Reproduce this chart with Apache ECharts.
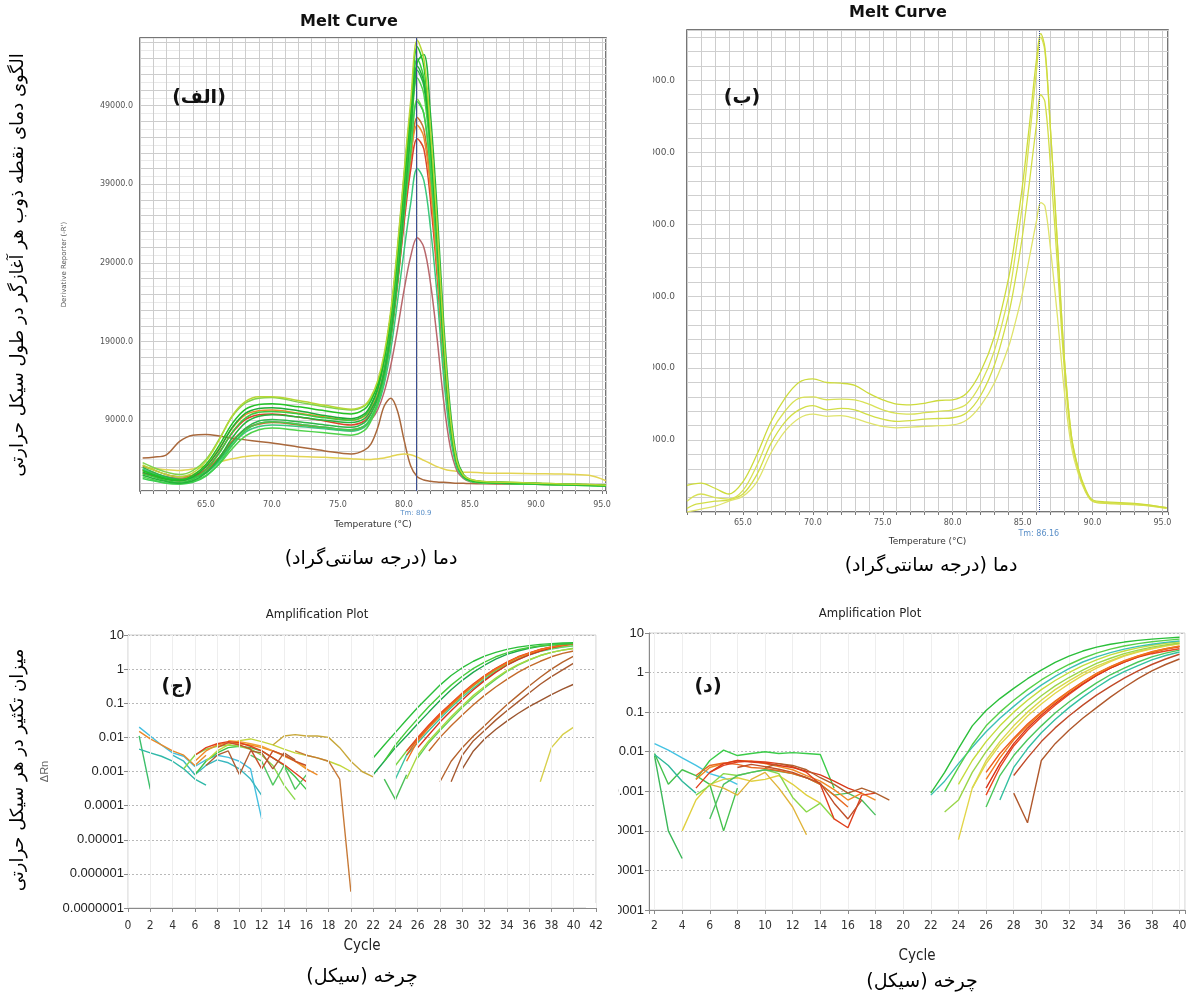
<!DOCTYPE html>
<html lang="fa">
<head>
<meta charset="utf-8">
<title>Melt Curve / Amplification Plot</title>
<script src="https://cdn.jsdelivr.net/npm/echarts@6/dist/echarts.min.js"></script>
<style>
  html, body { margin: 0; padding: 0; background: #ffffff; }
  #chart { width: 1188px; height: 999px; }
</style>
</head>
<body>
<div id="chart"></div>
<script>
// ===================== Panel (الف): melt curves of all primers =====================
const meltTempA = [60.2, 61, 62, 63, 64, 65, 66, 67, 68, 69, 70, 72, 74, 76, 77, 77.5, 78, 78.5, 79, 79.5,
  80, 80.5, 81, 81.5, 82, 82.5, 83, 83.5, 84, 84.5, 85, 86, 88, 90, 92, 94, 95.3];

const meltA01 = [2600, 2100, 1600, 1400, 2000, 3400, 5800, 8600, 10400, 11000, 11100, 10700, 10200, 9800, 10400, 11500, 13500, 17000, 22500, 30000, 39000, 48000, 56500, 54000, 45000, 33000, 19000, 9000, 3600, 1900, 1400, 1150, 1050, 950, 850, 780, 700];
const meltA02 = [2200, 1800, 1300, 1100, 1500, 2700, 4800, 7500, 9300, 10000, 10100, 9800, 9300, 9000, 9600, 10800, 12800, 16500, 22000, 29500, 38500, 47000, 55000, 52500, 44000, 32500, 19000, 9200, 3800, 2000, 1400, 1100, 1000, 900, 820, 750, 680];
const meltA03 = [3000, 2400, 1800, 1500, 1700, 2400, 4000, 6200, 8000, 8900, 9100, 8800, 8400, 8100, 8700, 9800, 11800, 15500, 21000, 28500, 37500, 46000, 53500, 51500, 43500, 32000, 18500, 8800, 3500, 1900, 1350, 1100, 1000, 900, 800, 720, 650];
const meltA04 = [1800, 1400, 1000, 900, 1200, 2000, 3400, 5400, 7000, 7800, 8000, 7700, 7400, 7100, 7700, 8900, 11000, 14500, 20000, 27500, 36500, 45000, 52500, 50500, 42500, 31500, 18000, 8500, 3400, 1800, 1300, 1050, 950, 850, 780, 700, 620];
const meltA05 = [3600, 3000, 2400, 2100, 2600, 4000, 6600, 9500, 11200, 11800, 11900, 11300, 10700, 10300, 10800, 11800, 13600, 16800, 21500, 28000, 35500, 43000, 49800, 48000, 40500, 30000, 17500, 8600, 3600, 2000, 1500, 1200, 1100, 1000, 900, 820, 740];
const meltA06 = [2000, 1600, 1200, 1000, 1300, 2300, 4200, 6800, 8700, 9500, 9700, 9400, 9000, 8700, 9200, 10300, 12000, 15000, 20000, 27000, 36000, 45500, 54500, 55500, 48000, 36000, 21500, 10500, 4200, 2100, 1450, 1150, 1050, 950, 850, 770, 690];
const meltA07 = [2800, 2200, 1700, 1400, 1600, 2300, 3800, 5900, 7500, 8200, 8400, 8200, 7900, 7600, 8100, 9100, 10800, 13600, 18000, 24000, 30500, 36500, 41000, 39500, 33500, 25000, 14500, 7000, 3000, 1700, 1250, 1050, 950, 850, 770, 700, 620];
const meltA08 = [2400, 2000, 1500, 1300, 1800, 3100, 5300, 8100, 9900, 10500, 10600, 10200, 9600, 9200, 9800, 11000, 13000, 16800, 22500, 30500, 40000, 48500, 54000, 52000, 44000, 32500, 19000, 9000, 3600, 1900, 1400, 1150, 1050, 950, 850, 770, 690];
const meltA09 = [2600, 2200, 1700, 1500, 2000, 3200, 5400, 8000, 9700, 10200, 10300, 9900, 9400, 9000, 9500, 10500, 12300, 15500, 20500, 27500, 35500, 42500, 46500, 45000, 38500, 28500, 16500, 8000, 3300, 1800, 1350, 1100, 1000, 900, 820, 750, 680];
const meltA10 = [2300, 1900, 1500, 1300, 1700, 2800, 4900, 7400, 9100, 9700, 9800, 9400, 8900, 8400, 8900, 9900, 11700, 14800, 19800, 26500, 34000, 40800, 44800, 43500, 37000, 27500, 16000, 7800, 3200, 1800, 1300, 1100, 1000, 900, 820, 750, 680];
const meltA11 = [3200, 2700, 2100, 1800, 2000, 2700, 4300, 6400, 7900, 8500, 8700, 8400, 8000, 7700, 8200, 9200, 11000, 14200, 19200, 26000, 34500, 42000, 47500, 46000, 39500, 29500, 17000, 8200, 3400, 1900, 1400, 1150, 1050, 950, 850, 780, 700];
const meltA12 = [2700, 2300, 1800, 1600, 1900, 2600, 4200, 6300, 7900, 8600, 8800, 8500, 8100, 7800, 8200, 9000, 10300, 12600, 16000, 20500, 25500, 29800, 32200, 31000, 26500, 19500, 11500, 5600, 2600, 1600, 1200, 1050, 950, 870, 800, 730, 660];
const meltA13 = [4200, 4300, 4600, 6300, 7100, 7200, 7000, 6700, 6500, 6300, 6100, 5600, 5100, 4700, 5200, 6000, 8000, 10800, 11800, 10200, 6500, 3200, 1800, 1400, 1250, 1150, 1100, 1050, 1000, 980, 950, 920, 880, 850, 800, 760, 700];
const meltA14 = [3000, 2900, 2700, 2600, 2800, 3200, 3700, 4100, 4400, 4500, 4500, 4400, 4300, 4100, 4000, 4000, 4100, 4200, 4400, 4600, 4700, 4600, 4300, 3900, 3500, 3100, 2800, 2600, 2500, 2400, 2400, 2300, 2250, 2200, 2150, 2000, 1300];
const meltA15 = [3300, 2700, 2100, 1800, 2300, 3800, 6500, 9600, 11400, 12000, 12000, 11500, 10900, 10400, 10900, 12000, 14000, 17500, 23000, 31000, 40500, 49500, 57300, 55000, 46000, 34000, 20000, 9500, 3800, 2000, 1500, 1200, 1100, 1000, 900, 820, 740];
const meltA16 = [1600, 1300, 1000, 900, 1100, 1900, 3500, 5800, 7700, 8600, 8800, 8500, 8100, 7800, 8300, 9400, 11200, 14500, 19500, 26500, 35000, 43000, 49500, 48000, 41000, 30500, 17800, 8500, 3400, 1800, 1300, 1050, 950, 860, 780, 700, 630];

// drawing order: brown / red / orange traces first, green bundle on top
const meltCurvesA = [meltA13, meltA14, meltA12, meltA11, meltA10, meltA09,
  meltA05, meltA07, meltA03, meltA04, meltA16, meltA02, meltA08, meltA06, meltA01, meltA15];
const meltColorsA = ['#a9683c', '#e3d452', '#b8686c', '#c27232', '#da452b', '#eb8b2f',
  '#7fd44c', '#3cc87c', '#2cb84a', '#4fd24a', '#3ccf50', '#39cc3e', '#1fae35', '#25b33a', '#22c224', '#b7d636'];
const meltTicksA = [9000, 19000, 29000, 39000, 49000];
const tmA = 80.9;

// ===================== Panel (ب): melt curves of one primer =====================
const meltTempB = [61, 61.5, 62, 63, 64, 65, 66, 67, 68, 69, 70, 71, 72, 73, 74, 75, 76, 77, 78, 79, 80, 81, 82, 83, 84,
  84.5, 85, 85.5, 86, 86.3, 86.6, 87, 87.5, 88, 88.5, 89, 89.5, 90, 91, 92, 93, 94, 95.3];
const meltB1 = [370, 390, 400, 330, 250, 420, 800, 1250, 1580, 1800, 1850, 1800, 1790, 1760, 1650, 1560, 1500, 1490, 1510, 1550, 1560, 1650, 1950, 2450, 3250, 3850, 4550, 5400, 6300, 6650, 6450, 5300, 3700, 2100, 1050, 600, 320, 170, 140, 130, 120, 100, 60];
const meltB2 = [150, 220, 250, 200, 180, 300, 650, 1100, 1400, 1580, 1600, 1560, 1570, 1560, 1500, 1420, 1370, 1360, 1380, 1400, 1420, 1500, 1780, 2250, 3000, 3600, 4300, 5200, 6150, 6600, 6400, 5300, 3700, 2100, 1050, 580, 300, 160, 130, 120, 110, 95, 60];
const meltB3 = [50, 100, 120, 150, 170, 250, 520, 950, 1250, 1420, 1480, 1420, 1440, 1420, 1350, 1290, 1260, 1270, 1290, 1300, 1310, 1380, 1620, 2050, 2750, 3250, 3850, 4600, 5400, 5800, 5700, 4800, 3400, 1950, 1000, 560, 290, 150, 120, 115, 105, 90, 55];
const meltB4 = [0, 20, 40, 80, 150, 220, 420, 820, 1120, 1300, 1360, 1330, 1340, 1300, 1240, 1190, 1170, 1180, 1190, 1200, 1210, 1280, 1480, 1800, 2300, 2650, 3050, 3550, 4050, 4300, 4250, 3650, 2700, 1650, 900, 520, 280, 150, 120, 110, 100, 85, 50];
const meltCurvesB = [meltB4, meltB3, meltB2, meltB1];
const meltColorsB = ['#dfe36a', '#d2de46', '#d8e155', '#cddb3c'];
const meltTicksB = [1000, 2000, 3000, 4000, 5000, 6000];
const tmB = 86.16;

// ===================== Panel (ج): amplification plot, ΔRn per cycle =====================
const ampTickLabels = ['10', '1', '0.1', '0.01', '0.001', '0.0001', '0.00001', '0.000001', '0.0000001'];

const ampC_G1 = { from: 22, v: [0.0025, 0.006, 0.014, 0.033, 0.075, 0.16, 0.34, 0.65, 1.1, 1.7, 2.4, 3.1, 3.8, 4.4, 4.9, 5.3, 5.6, 5.8, 5.9] };
const ampC_G2 = { from: 23, v: [0.002, 0.006, 0.015, 0.035, 0.08, 0.17, 0.34, 0.62, 1.05, 1.6, 2.3, 3.0, 3.7, 4.3, 4.8, 5.2, 5.5, 5.7] };
const ampC_G3 = { from: 22, v: [0.0008, 0.002, 0.005, 0.011, 0.025, 0.055, 0.12, 0.25, 0.47, 0.82, 1.3, 1.95, 2.7, 3.4, 4.1, 4.7, 5.1, 5.4, 5.6] };
const ampC_G4 = { from: 24, v: [0.0015, 0.004, 0.009, 0.02, 0.042, 0.085, 0.17, 0.32, 0.56, 0.92, 1.4, 2.0, 2.7, 3.4, 4.0, 4.5, 4.9] };
const ampC_G5 = { from: 25, v: [0.0006, 0.003, 0.008, 0.018, 0.04, 0.085, 0.17, 0.31, 0.55, 0.9, 1.35, 1.9, 2.5, 3.1, 3.6, 4.0] };
const ampC_G6 = { from: 24, v: [0.0006, 0.003, 0.007, 0.016, 0.035, 0.075, 0.15, 0.28, 0.5, 0.85, 1.3, 1.9, 2.6, 3.3, 3.9, 4.4, 4.8] };
const ampC_G7 = { from: 26, v: [0.0025, 0.007, 0.016, 0.035, 0.075, 0.15, 0.28, 0.5, 0.85, 1.3, 1.85, 2.5, 3.1, 3.6, 4.1] };
const ampC_R1 = { from: 25, v: [0.004, 0.01, 0.023, 0.05, 0.1, 0.2, 0.37, 0.65, 1.05, 1.6, 2.3, 3.0, 3.8, 4.5, 5.1, 5.6] };
const ampC_R2 = { from: 25, v: [0.002, 0.008, 0.019, 0.042, 0.088, 0.18, 0.34, 0.6, 1.0, 1.5, 2.2, 2.9, 3.7, 4.4, 5.0, 5.5] };
const ampC_R3 = { from: 26, v: [0.005, 0.012, 0.028, 0.06, 0.125, 0.25, 0.46, 0.8, 1.3, 1.9, 2.6, 3.4, 4.2, 4.9, 5.5] };
const ampC_R4 = { from: 25, v: [0.003, 0.009, 0.021, 0.046, 0.095, 0.19, 0.35, 0.62, 1.02, 1.55, 2.25, 2.95, 3.75, 4.45, 5.05, 5.55] };
const ampC_B1 = { from: 28, v: [0.0005, 0.002, 0.005, 0.011, 0.022, 0.045, 0.09, 0.17, 0.32, 0.58, 1.0, 1.6, 2.4] };
const ampC_B2 = { from: 29, v: [0.0005, 0.003, 0.008, 0.016, 0.032, 0.06, 0.11, 0.2, 0.36, 0.6, 0.95, 1.5] };
const ampC_B3 = { from: 30, v: [0.0012, 0.004, 0.009, 0.017, 0.03, 0.05, 0.08, 0.12, 0.18, 0.26, 0.36] };
const ampC_B4 = { from: 27, v: [0.004, 0.01, 0.022, 0.045, 0.09, 0.17, 0.3, 0.5, 0.8, 1.2, 1.7, 2.3, 2.9, 3.4] };
const ampC_Y1 = { from: 37, v: [0.0005, 0.005, 0.012, 0.02] };

const noiseC01 = { from: 1, v: [0.02, 0.011, 0.006, 0.0035, 0.0028, 0.0014, 0.0022, 0.003, 0.0026, 0.002, 0.0012, 0.00004] };
const noiseC02 = { from: 1, v: [0.011, 0.0003] };
const noiseC03 = { from: 1, v: [0.0045, 0.0035, 0.0028, 0.002, 0.0012, 0.0006, 0.0004] };
const noiseC04 = { from: 1, v: [0.015, 0.009, 0.006, 0.004, 0.003, 0.0015, 0.003] };
const noiseC05 = { from: 6, v: [0.002, 0.004, 0.006, 0.007, 0.0065, 0.006, 0.005, 0.004, 0.003, 0.002, 0.0012, 0.0008] };
const noiseC06 = { from: 6, v: [0.003, 0.005, 0.0065, 0.0075, 0.007, 0.0055, 0.004, 0.0025, 0.0016, 0.0009, 0.0005] };
const noiseC07 = { from: 7, v: [0.0015, 0.003, 0.004, 0.0008, 0.004, 0.0035, 0.0012, 0.0035, 0.0022] };
const noiseC08 = { from: 6, v: [0.0008, 0.002, 0.0035, 0.005, 0.0055, 0.005, 0.004, 0.0025, 0.0015, 0.0007, 0.0003] };
const noiseC09 = { from: 5, v: [0.0012, 0.003, 0.0045, 0.0055, 0.006, 0.0055, 0.0045, 0.003, 0.0015, 0.0004, 0.00015] };
const noiseC10 = { from: 7, v: [0.002, 0.004, 0.006, 0.008, 0.009, 0.0075, 0.006, 0.0045, 0.0035, 0.003, 0.0025, 0.002, 0.0015, 0.001] };
const noiseC11 = { from: 13, v: [0.006, 0.011, 0.012, 0.011, 0.011, 0.01, 0.005, 0.002, 0.001, 0.0007] };
const noiseC12 = { from: 15, v: [0.004, 0.003, 0.0025, 0.002, 0.0006, 0.0000003] };
const noiseC13 = { from: 4, v: [0.003, 0.002, 0.0008, 0.0015, 0.0022, 0.0018, 0.0012, 0.0006, 0.0002] };
const noiseC14 = { from: 11, v: [0.003, 0.002, 0.0004, 0.0015, 0.0003, 0.0008] };
const noiseC15 = { from: 8, v: [0.005, 0.007, 0.006, 0.0045, 0.0012, 0.004, 0.003, 0.002, 0.0015] };
const noiseC16 = { from: 9, v: [0.008, 0.0075, 0.0065, 0.0055, 0.004, 0.0028, 0.002, 0.0013] };
const noiseC17 = { from: 23, v: [0.0006, 0.00015, 0.0008] };

const ampCurvesC = [noiseC01, noiseC02, noiseC03, noiseC04, noiseC13, noiseC08, noiseC09, noiseC14, noiseC10,
  noiseC05, noiseC16, noiseC06, noiseC15, noiseC07, noiseC11, noiseC12, noiseC17,
  ampC_B3, ampC_B2, ampC_B1, ampC_B4, ampC_Y1, ampC_G7, ampC_G5, ampC_G6, ampC_G4,
  ampC_R3, ampC_R1, ampC_R4, ampC_R2, ampC_G3, ampC_G2, ampC_G1];
const ampColorsC = ['#45bfe0', '#3cbf6a', '#2fb8a8', '#e88a2a', '#3ab8c0', '#3cc44a', '#8ad84a', '#52c862', '#c2d63a',
  '#ef8b26', '#f0a030', '#e0401e', '#c8502a', '#b05c32', '#c8a83a', '#c77a38', '#4cc05a',
  '#9c5630', '#a85a30', '#b4622c', '#c46a2a', '#d8d04c', '#62d25a', '#a8d840', '#3cc4a0', '#7bd64a',
  '#d8321a', '#e8431e', '#ea5a1c', '#f0701e', '#1ea84e', '#47cc3c', '#2bbf3a'];

// ===================== Panel (د): amplification plot, second run =====================
const ampD_G1 = { from: 22, v: [0.0009, 0.003, 0.012, 0.045, 0.11, 0.22, 0.4, 0.7, 1.15, 1.8, 2.6, 3.5, 4.4, 5.2, 5.9, 6.5, 7.0, 7.4, 7.8] };
const ampD_G2 = { from: 23, v: [0.001, 0.004, 0.015, 0.045, 0.1, 0.2, 0.37, 0.65, 1.05, 1.6, 2.3, 3.1, 3.9, 4.7, 5.4, 6.0, 6.5, 7.0] };
const ampD_G3 = { from: 22, v: [0.0008, 0.0018, 0.005, 0.013, 0.032, 0.07, 0.14, 0.27, 0.48, 0.8, 1.25, 1.85, 2.5, 3.2, 3.9, 4.6, 5.2, 5.8, 6.3] };
const ampD_G4 = { from: 24, v: [0.0015, 0.006, 0.018, 0.045, 0.1, 0.2, 0.37, 0.63, 1.0, 1.5, 2.1, 2.8, 3.5, 4.2, 4.9, 5.5, 6.0] };
const ampD_G5 = { from: 23, v: [0.0003, 0.0006, 0.003, 0.01, 0.028, 0.065, 0.135, 0.26, 0.46, 0.75, 1.15, 1.7, 2.3, 3.0, 3.7, 4.4, 5.0, 5.6] };
const ampD_G6 = { from: 25, v: [0.0012, 0.006, 0.018, 0.045, 0.1, 0.2, 0.37, 0.62, 0.98, 1.45, 2.0, 2.7, 3.4, 4.1, 4.8, 5.4] };
const ampD_G7 = { from: 26, v: [0.0004, 0.0025, 0.008, 0.02, 0.045, 0.095, 0.18, 0.32, 0.55, 0.88, 1.3, 1.85, 2.5, 3.1, 3.7] };
const ampD_G8 = { from: 27, v: [0.0006, 0.004, 0.012, 0.03, 0.065, 0.13, 0.24, 0.42, 0.7, 1.05, 1.5, 2.1, 2.7, 3.3] };
const ampD_R1 = { from: 26, v: [0.0008, 0.004, 0.014, 0.035, 0.075, 0.15, 0.28, 0.5, 0.85, 1.3, 1.85, 2.45, 3.0, 3.5, 4.0] };
const ampD_R2 = { from: 26, v: [0.002, 0.007, 0.02, 0.045, 0.095, 0.18, 0.33, 0.57, 0.93, 1.4, 1.95, 2.6, 3.3, 4.0, 4.7] };
const ampD_R3 = { from: 26, v: [0.0012, 0.005, 0.016, 0.04, 0.085, 0.165, 0.3, 0.52, 0.85, 1.3, 1.85, 2.5, 3.2, 3.9, 4.5] };
const ampD_R4 = { from: 26, v: [0.003, 0.009, 0.022, 0.05, 0.1, 0.19, 0.34, 0.58, 0.95, 1.42, 2.0, 2.65, 3.35, 4.0, 4.6] };
const ampD_B1 = { from: 28, v: [0.0009, 0.00016, 0.006, 0.016, 0.035, 0.07, 0.13, 0.24, 0.42, 0.7, 1.1, 1.6, 2.2] };
const ampD_B2 = { from: 28, v: [0.0025, 0.007, 0.018, 0.04, 0.08, 0.15, 0.27, 0.45, 0.72, 1.1, 1.6, 2.2, 2.9] };
const ampD_Y1 = { from: 24, v: [0.00006, 0.0012, 0.005, 0.015, 0.035, 0.08, 0.16, 0.3, 0.52, 0.85, 1.3, 1.9, 2.6, 3.3, 4.0, 4.7, 5.3] };

const noiseD01 = { from: 2, v: [0.016, 0.011, 0.007, 0.0045, 0.0028, 0.0022, 0.0015] };
const noiseD02 = { from: 2, v: [0.008, 0.0001, 0.00002] };
const noiseD03 = { from: 2, v: [0.009, 0.0015, 0.0035, 0.0025, 0.0015, 0.0001, 0.0012] };
const noiseD04 = { from: 2, v: [0.0085, 0.0045, 0.0018, 0.0009] };
const noiseD05 = { from: 5, v: [0.002, 0.006, 0.011, 0.008, 0.009, 0.01, 0.009, 0.0095, 0.009, 0.0085, 0.0012] };
const noiseD06 = { from: 5, v: [0.0012, 0.003, 0.0045, 0.0055, 0.0058, 0.0055, 0.005, 0.0042, 0.003, 0.0015, 0.0002, 0.00012, 0.0008, 0.0009] };
const noiseD07 = { from: 5, v: [0.002, 0.004, 0.005, 0.006, 0.0058, 0.005, 0.0042, 0.0035, 0.0025, 0.0018, 0.0011, 0.0006, 0.0009, 0.0006] };
const noiseD08 = { from: 5, v: [0.0025, 0.0045, 0.0052, 0.0048, 0.004, 0.0038, 0.0033, 0.0028, 0.0022, 0.0015, 0.0008, 0.0004] };
const noiseD09 = { from: 4, v: [0.0001, 0.0006, 0.0015, 0.002, 0.0022, 0.0018, 0.002, 0.0025, 0.0015, 0.0008, 0.0005] };
const noiseD10 = { from: 5, v: [0.0008, 0.0014, 0.0028, 0.0025, 0.003, 0.0035, 0.0028, 0.0007, 0.0003, 0.0005, 0.0002] };
const noiseD11 = { from: 6, v: [0.0002, 0.0015, 0.0025, 0.003, 0.0035, 0.0032, 0.0028, 0.0022, 0.0015, 0.0008, 0.0009, 0.0006, 0.00025] };
const noiseD12 = { from: 10, v: [0.004, 0.005, 0.0045, 0.0035, 0.0022, 0.0015, 0.0009, 0.0012, 0.0009, 0.0006] };
const noiseD13 = { from: 6, v: [0.0015, 0.0012, 0.0008, 0.002, 0.003, 0.0012, 0.0004, 0.00008] };
const noiseD14 = { from: 6, v: [0.003, 0.005, 0.006, 0.0055, 0.0052, 0.0045, 0.004, 0.0032, 0.0026, 0.0018, 0.0012, 0.0009] };
const noiseD15 = { from: 8, v: [0.004, 0.0048, 0.0042, 0.0036, 0.003, 0.0022, 0.0016, 0.0005, 0.0002, 0.0006] };

const ampCurvesD = [noiseD01, noiseD02, noiseD03, noiseD04, noiseD05, noiseD09, noiseD10, noiseD11, noiseD13,
  noiseD07, noiseD08, noiseD06, noiseD14, noiseD15, noiseD12,
  ampD_B1, ampD_B2, ampD_G8, ampD_G7, ampD_Y1, ampD_G6, ampD_G5, ampD_G4,
  ampD_R1, ampD_R3, ampD_R4, ampD_R2, ampD_G3, ampD_G2, ampD_G1];
const ampColorsD = ['#45c3e3', '#3cb85a', '#46c24e', '#2fb89a', '#3ccc4a', '#e0d040', '#8ad84a', '#4cc060', '#e0b43a',
  '#ef8b26', '#e86a22', '#e0401e', '#d83a1a', '#c0502a', '#b0602e',
  '#b0582c', '#c04a28', '#34c0a0', '#4cc85a', '#e2d64a', '#d8d84a', '#9ad64a', '#c4dc3c',
  '#e8461e', '#d8341a', '#ee5c1c', '#f0781e', '#3cc0b4', '#56d048', '#2bbf3a'];

// ===================== Texts =====================
const rtl = s => '\u202B' + s + '\u202C';
const txtMeltAxis = 'دما (درجه سانتی\u200Cگراد)';
const txtCycleAxis = 'چرخه (سیکل)';
const txtMeltSide = 'الگوی دمای نقطه ذوب هر آغازگر در طول سیکل حرارتی';
const txtAmpSide = 'میزان تکثیر در هر سیکل حرارتی';
const panelTags = ['(الف)', '(ب)', '(ج)', '(د)'];

const FONT_MELT = '"DejaVu Sans", sans-serif';
const FONT_AMP = '"Liberation Sans", Arial, sans-serif';
const FONT_NARROW = '"Liberation Sans Narrow", "DejaVu Sans Condensed", "Liberation Sans", sans-serif';
const FONT_FA = '"DejaVu Sans", sans-serif';

// ===================== Series =====================
const series = [];
meltCurvesA.forEach((vals, i) => {
  series.push({
    type: 'line', xAxisIndex: 0, yAxisIndex: 0, showSymbol: false, smooth: 0.35, silent: true,
    lineStyle: { color: meltColorsA[i], width: 1.5 },
    data: meltTempA.map((t, k) => [t, vals[k]])
  });
});
series.push({
  type: 'line', xAxisIndex: 0, yAxisIndex: 0, data: [], silent: true,
  markLine: {
    silent: true, symbol: 'none', animation: false,
    lineStyle: { color: '#3b4f93', width: 1, type: 'solid' },
    label: { show: true, position: 'start', distance: 19, formatter: 'Tm: ' + tmA, color: '#5a8fc8', fontSize: 7, fontFamily: FONT_MELT },
    data: [{ xAxis: tmA }]
  }
});
meltCurvesB.forEach((vals, i) => {
  series.push({
    type: 'line', xAxisIndex: 1, yAxisIndex: 1, showSymbol: false, smooth: 0.35, silent: true,
    lineStyle: { color: meltColorsB[i], width: 1.3 },
    data: meltTempB.map((t, k) => [t, vals[k]])
  });
});
series.push({
  type: 'line', xAxisIndex: 1, yAxisIndex: 1, data: [], silent: true,
  markLine: {
    silent: true, symbol: 'none', animation: false,
    lineStyle: { color: '#3b4f93', width: 1, type: 'dotted' },
    label: { show: true, position: 'start', distance: 18, formatter: 'Tm: ' + tmB, color: '#5a8fc8', fontSize: 8, fontFamily: FONT_MELT },
    data: [{ xAxis: tmB }]
  }
});
function ampSeries(curves, colors, axisIdx) {
  curves.forEach((c, i) => {
    series.push({
      type: 'line', xAxisIndex: axisIdx, yAxisIndex: axisIdx, showSymbol: false, smooth: false, silent: true,
      lineStyle: { color: colors[i], width: 1.4 },
      data: c.v.map((y, k) => [c.from + k, y])
    });
  });
}
ampSeries(ampCurvesC, ampColorsC, 2);
ampSeries(ampCurvesD, ampColorsD, 3);

// ===================== Axes =====================
const meltXLabel = (v) => (v % 5 === 0 && v > 60 ? v.toFixed(1) : '');
const logLabel = (v) => {
  const k = Math.round(-Math.log10(v)) + 1;
  return ampTickLabels[k] !== undefined ? ampTickLabels[k] : '';
};

const option = {
  animation: false,
  backgroundColor: '#ffffff',
  textStyle: { fontFamily: FONT_AMP },
  grid: [
    { left: 140, top: 38, width: 466, height: 453, show: true, borderColor: '#4a4a4a', borderWidth: 1.5, backgroundColor: '#ffffff', outerBoundsMode: 'none' },
    { left: 687, top: 30, width: 481, height: 482, show: true, borderColor: '#4a4a4a', borderWidth: 1.5, backgroundColor: '#ffffff', outerBoundsMode: 'none' },
    { left: 128, top: 635, width: 468, height: 273, show: true, borderColor: '#cfcfcf', borderWidth: 1, backgroundColor: '#ffffff', outerBoundsMode: 'none' },
    { left: 649, top: 633, width: 536, height: 277, show: true, borderColor: '#cfcfcf', borderWidth: 1, backgroundColor: '#ffffff', outerBoundsMode: 'none' }
  ],
  xAxis: [
    {
      gridIndex: 0, type: 'value', min: 60, max: 95.3, interval: 1,
      name: 'Temperature (°C)', nameLocation: 'middle', nameGap: 29,
      nameTextStyle: { fontSize: 9, color: '#333', fontFamily: FONT_MELT },
      axisLine: { show: false, onZero: false },
      axisTick: { show: true, length: 3, lineStyle: { color: '#777' } },
      axisLabel: { formatter: meltXLabel, fontSize: 8, color: '#555', margin: 10, fontFamily: FONT_MELT },
      splitLine: { show: true, lineStyle: { color: '#cdcdcd', width: 1 } }
    },
    {
      gridIndex: 1, type: 'value', min: 61, max: 95.4, interval: 1,
      name: 'Temperature (°C)', nameLocation: 'middle', nameGap: 25,
      nameTextStyle: { fontSize: 9, color: '#333', fontFamily: FONT_MELT },
      axisLine: { show: false, onZero: false },
      axisTick: { show: true, length: 3, lineStyle: { color: '#777' } },
      axisLabel: { formatter: meltXLabel, fontSize: 8, color: '#555', margin: 7, fontFamily: FONT_MELT },
      splitLine: { show: true, lineStyle: { color: '#cdcdcd', width: 1 } }
    },
    {
      gridIndex: 2, type: 'value', min: 0, max: 42, interval: 2, z: 60,
      name: 'Cycle', nameLocation: 'middle', nameGap: 31,
      nameTextStyle: { fontSize: 15, color: '#222', fontFamily: FONT_NARROW },
      axisLine: { show: true, onZero: false, lineStyle: { color: '#8a8a8a', width: 1 } },
      axisTick: { show: true, length: 4, lineStyle: { color: '#8a8a8a' } },
      axisLabel: { fontSize: 12, color: '#333', margin: 12, fontFamily: FONT_NARROW },
      splitLine: { show: true, lineStyle: { color: '#eeeeee', width: 1 } }
    },
    {
      gridIndex: 3, type: 'value', min: 1.6, max: 40.4, splitNumber: 19,
      name: 'Cycle', nameLocation: 'middle', nameGap: 39,
      nameTextStyle: { fontSize: 15, color: '#222', fontFamily: FONT_NARROW },
      axisLine: { show: true, onZero: false, lineStyle: { color: '#8a8a8a', width: 1 } },
      axisTick: { show: true, length: 4, lineStyle: { color: '#8a8a8a' } },
      axisLabel: { formatter: (v) => (Number.isInteger(v) ? String(v) : ''), fontSize: 12, color: '#333', margin: 10, fontFamily: FONT_NARROW },
      splitLine: { show: true, lineStyle: { color: '#eeeeee', width: 1 } }
    }
  ],
  yAxis: [
    {
      gridIndex: 0, type: 'value', min: 0, max: 57600, interval: 1000,
      name: "Derivative Reporter (-R')", nameLocation: 'middle', nameGap: 72,
      nameTextStyle: { fontSize: 7, color: '#555', fontFamily: FONT_MELT },
      axisLine: { show: false },
      axisTick: { show: false },
      axisLabel: { formatter: (v) => (meltTicksA.includes(v) ? v.toFixed(1) : ''), fontSize: 8, color: '#555', margin: 7, fontFamily: FONT_MELT },
      splitLine: { show: true, lineStyle: { color: ['#e9e9e9', '#cdcdcd'], width: 1 } }
    },
    {
      gridIndex: 1, type: 'value', min: 0, max: 6700, interval: 200,
      axisLine: { show: false },
      axisTick: { show: false },
      axisLabel: { formatter: (v) => (meltTicksB.includes(v) ? v.toFixed(1) : ''), fontSize: 9, color: '#555', margin: 12, fontFamily: FONT_MELT },
      splitLine: { show: true, lineStyle: { color: '#cfcfcf', width: 1 } }
    },
    {
      gridIndex: 2, type: 'log', logBase: 10, min: 1e-7, max: 10,
      name: 'ΔRn', nameLocation: 'middle', nameGap: 78,
      nameTextStyle: { fontSize: 11, color: '#666', fontFamily: FONT_AMP },
      axisLine: { show: true, lineStyle: { color: '#8a8a8a', width: 1 } },
      axisTick: { show: true, length: 4, lineStyle: { color: '#8a8a8a' } },
      axisLabel: { formatter: logLabel, fontSize: 13, color: '#222', margin: 4, fontFamily: FONT_AMP },
      splitLine: { show: true, lineStyle: { color: '#b9b9b9', width: 1, type: [2, 2] } }
    },
    {
      gridIndex: 3, type: 'log', logBase: 10, min: 1e-6, max: 10,
      axisLine: { show: true, lineStyle: { color: '#8a8a8a', width: 1 } },
      axisTick: { show: true, length: 4, lineStyle: { color: '#8a8a8a' } },
      axisLabel: { formatter: logLabel, fontSize: 13, color: '#222', margin: 5, fontFamily: FONT_AMP },
      splitLine: { show: true, lineStyle: { color: '#b9b9b9', width: 1, type: [2, 2] } }
    }
  ],
  series: series,
  graphic: [
    // edges of the neighbouring images cut the left part of some tick labels
    { type: 'rect', z: 50, silent: true, shape: { x: 612, y: 60, width: 41, height: 400 }, style: { fill: '#ffffff' } },
    { type: 'rect', z: 50, silent: true, shape: { x: 597, y: 624, width: 21, height: 295 }, style: { fill: '#ffffff' } },
    { type: 'rect', z: 50, silent: true, shape: { x: 586, y: 903, width: 12, height: 16 }, style: { fill: '#ffffff' } },

    { type: 'text', z: 55, x: 349, y: 22, style: { text: 'Melt Curve', font: 'bold 16px ' + FONT_MELT, fill: '#111', align: 'center', verticalAlign: 'middle' } },
    { type: 'text', z: 55, x: 898, y: 13, style: { text: 'Melt Curve', font: 'bold 16px ' + FONT_MELT, fill: '#111', align: 'center', verticalAlign: 'middle' } },
    { type: 'text', z: 55, x: 317, y: 615, style: { text: 'Amplification Plot', font: '13px ' + FONT_NARROW, fill: '#222', align: 'center', verticalAlign: 'middle' } },
    { type: 'text', z: 55, x: 870, y: 614, style: { text: 'Amplification Plot', font: '13px ' + FONT_NARROW, fill: '#222', align: 'center', verticalAlign: 'middle' } },

    { type: 'text', z: 55, x: 199, y: 98, style: { text: rtl(panelTags[0]), font: 'bold 19px ' + FONT_FA, fill: '#111', align: 'center', verticalAlign: 'middle' } },
    { type: 'text', z: 55, x: 742, y: 98, style: { text: rtl(panelTags[1]), font: 'bold 19px ' + FONT_FA, fill: '#111', align: 'center', verticalAlign: 'middle' } },
    { type: 'text', z: 55, x: 177, y: 687, style: { text: rtl(panelTags[2]), font: 'bold 19px ' + FONT_FA, fill: '#111', align: 'center', verticalAlign: 'middle' } },
    { type: 'text', z: 55, x: 708, y: 687, style: { text: rtl(panelTags[3]), font: 'bold 19px ' + FONT_FA, fill: '#111', align: 'center', verticalAlign: 'middle' } },

    { type: 'text', z: 55, x: 371, y: 559, style: { text: rtl(txtMeltAxis), font: '19px ' + FONT_FA, fill: '#000', align: 'center', verticalAlign: 'middle' } },
    { type: 'text', z: 55, x: 931, y: 566, style: { text: rtl(txtMeltAxis), font: '19px ' + FONT_FA, fill: '#000', align: 'center', verticalAlign: 'middle' } },
    { type: 'text', z: 55, x: 362, y: 977, style: { text: rtl(txtCycleAxis), font: '19px ' + FONT_FA, fill: '#000', align: 'center', verticalAlign: 'middle' } },
    { type: 'text', z: 55, x: 922, y: 982, style: { text: rtl(txtCycleAxis), font: '19px ' + FONT_FA, fill: '#000', align: 'center', verticalAlign: 'middle' } },

    { type: 'text', z: 55, x: 18, y: 265, rotation: Math.PI / 2, style: { text: rtl(txtMeltSide), font: '18px ' + FONT_FA, fill: '#000', align: 'center', verticalAlign: 'middle' } },
    { type: 'text', z: 55, x: 18, y: 770, rotation: Math.PI / 2, style: { text: rtl(txtAmpSide), font: '18px ' + FONT_FA, fill: '#000', align: 'center', verticalAlign: 'middle' } }
  ]
};

const chart = echarts.init(document.getElementById('chart'), null, { renderer: 'canvas' });
chart.setOption(option);
</script>
</body>
</html>
